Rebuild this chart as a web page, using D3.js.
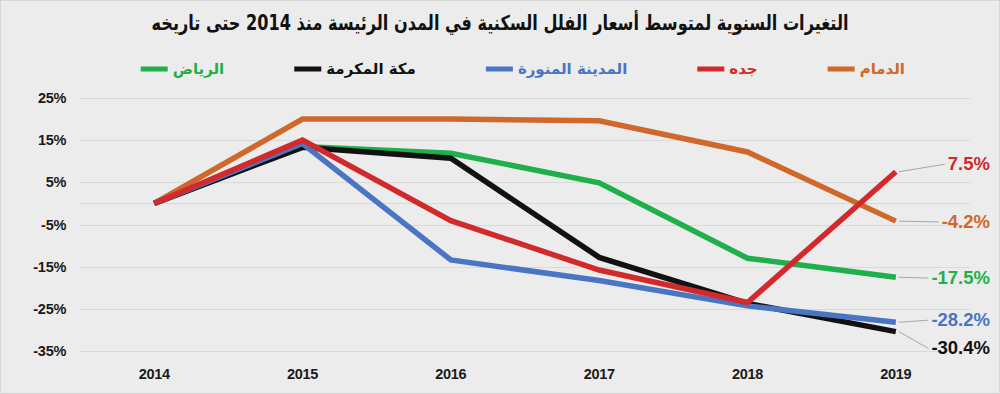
<!DOCTYPE html>
<html lang="ar">
<head>
<meta charset="utf-8">
<title>التغيرات السنوية</title>
<script src="https://d3js.org/d3.v7.min.js"></script>
<style>
  body { margin: 0; background: #ececec; }
  svg { display: block; }
  .tick-label { font-family: "Liberation Sans", Arial, sans-serif; font-weight: bold; font-size: 14.5px; fill: #1a1a1a; letter-spacing: -0.3px; }
  .ar { font-family: "DejaVu Sans", sans-serif; font-weight: bold; }
  .val { font-family: "Liberation Sans", Arial, sans-serif; font-weight: bold; font-size: 18.5px; }
</style>
</head>
<body>
<script>
// data
var years = ["2014", "2015", "2016", "2017", "2018", "2019"];
var cities = ["الدمام", "جده", "المدينة المنورة", "مكة المكرمة", "الرياض"];
var colors = ["#d0672b", "#d22a2c", "#4a74c4", "#111111", "#1fb04b"];
var dammam = [0, 20.0, 20.0, 19.6, 12.2, -4.2];
var jeddah = [0, 15.0, -4.1, -15.8, -23.5, 7.5];
var madinah = [0, 14.2, -13.4, -18.3, -24.3, -28.2];
var makkah = [0, 13.3, 10.7, -12.8, -23.7, -30.4];
var riyadh = [0, 13.5, 11.9, 4.9, -13.0, -17.5];
var yTicks = [25, 15, 5, -5, -15, -25, -35];
// where the end labels sit, in % units
var labelAt = [-4.4, 9.3, -27.7, -34.4, -17.7];

var series = [dammam, jeddah, madinah, makkah, riyadh];
var drawOrder = [0, 4, 3, 2, 1];

var width = 1000, height = 394;

var svg = d3.select("body").append("svg")
    .attr("width", width)
    .attr("height", height);

svg.append("rect")
    .attr("x", 0.5).attr("y", 0.5)
    .attr("width", width - 1).attr("height", height - 1)
    .attr("fill", "#ececec")
    .attr("stroke", "#d6d6d6");

var x = d3.scaleBand().domain(years).range([80, 970]);
var y = d3.scaleLinear().domain([-35, 25]).range([351, 98]);
var cx = function(d, i) { return x(years[i]) + x.bandwidth() / 2; };

// title
svg.append("text")
    .attr("class", "ar")
    .attr("x", 500).attr("y", 30)
    .attr("text-anchor", "middle")
    .attr("direction", "rtl")
    .attr("font-size", 20.5)
    .attr("fill", "#111")
    .attr("textLength", 697)
    .attr("lengthAdjust", "spacingAndGlyphs")
    .text("التغيرات السنوية لمتوسط أسعار الفلل السكنية في المدن الرئيسة منذ 2014 حتى تاريخه");

// legend, laid out right to left
var legend = svg.append("g");
var items = legend.selectAll("g").data(cities).enter().append("g");
items.append("text")
    .attr("class", "ar")
    .attr("font-size", 15)
    .attr("text-anchor", "end")
    .attr("y", 74)
    .attr("fill", function(d, i) { return colors[i]; })
    .text(function(d) { return d; });
var cursor = 905;
items.each(function(d, i) {
  var g = d3.select(this);
  var w = g.select("text").node().getComputedTextLength();
  g.select("text").attr("x", cursor);
  g.append("line")
      .attr("x1", cursor - w - 32).attr("x2", cursor - w - 5)
      .attr("y1", 69).attr("y2", 69)
      .attr("stroke", colors[i])
      .attr("stroke-width", 5);
  cursor = cursor - w - 32 - 70;
});

// grid
svg.append("g").selectAll("line")
    .data(yTicks.concat([0]))
    .enter().append("line")
    .attr("x1", 80).attr("x2", 970)
    .attr("y1", function(d) { return Math.round(y(d)) + 0.5; })
    .attr("y2", function(d) { return Math.round(y(d)) + 0.5; })
    .attr("stroke", "#d9d9d9")
    .attr("stroke-width", 1.2);

// y axis labels
svg.append("g").selectAll("text")
    .data(yTicks)
    .enter().append("text")
    .attr("class", "tick-label")
    .attr("x", 66)
    .attr("y", function(d) { return y(d) + 5; })
    .attr("text-anchor", "end")
    .text(function(d) { return d + "%"; });

// x axis labels
svg.append("g").selectAll("text")
    .data(years)
    .enter().append("text")
    .attr("class", "tick-label")
    .attr("x", function(d) { return x(d) + x.bandwidth() / 2; })
    .attr("y", 379)
    .attr("text-anchor", "middle")
    .text(function(d) { return d; });

// lines
var line = d3.line().x(cx).y(function(d) { return y(d); });
svg.append("g").selectAll("path")
    .data(drawOrder)
    .enter().append("path")
    .attr("d", function(k) { return line(series[k]); })
    .attr("fill", "none")
    .attr("stroke", function(k) { return colors[k]; })
    .attr("stroke-width", 5.5)
    .attr("stroke-linejoin", "miter");

// end labels with leader lines
var lastX = x(years[5]) + x.bandwidth() / 2;
var labels = svg.append("g").selectAll("g")
    .data(series)
    .enter().append("g");
labels.append("text")
    .attr("class", "val")
    .attr("x", 990)
    .attr("y", function(d, i) { return y(labelAt[i]) + 6; })
    .attr("text-anchor", "end")
    .attr("fill", function(d, i) { return colors[i]; })
    .text(function(d) { return d[5].toFixed(1) + "%"; });
labels.each(function(d, i) {
  var g = d3.select(this);
  var w = g.select("text").node().getComputedTextLength();
  g.insert("line", "text")
      .attr("x1", lastX + 3).attr("y1", y(d[5]))
      .attr("x2", 990 - w - 3).attr("y2", y(labelAt[i]))
      .attr("stroke", "#a6a6a6")
      .attr("stroke-width", 1);
});
</script>
</body>
</html>
